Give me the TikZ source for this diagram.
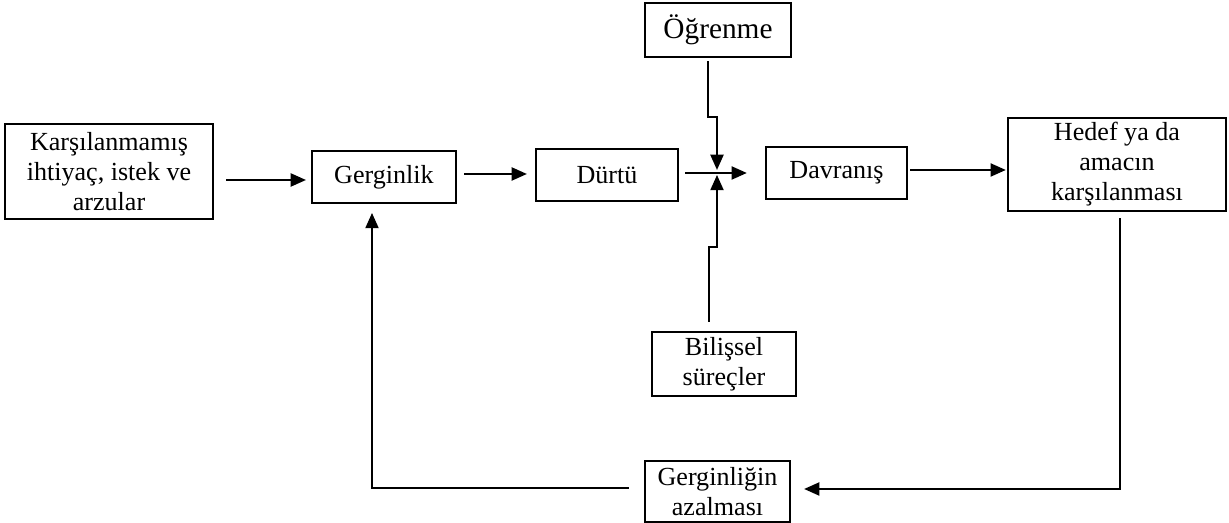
\documentclass[tikz,border=0pt]{standalone}
\usepackage{fontspec}
\setmainfont{Liberation Serif}
\usetikzlibrary{arrows.meta}
\begin{document}
\begin{tikzpicture}[x=0.46pt,y=-0.46pt,
		kutu/.style={draw,line width=1pt,align=center,inner sep=0pt,font=\fontsize{12}{13.8}\selectfont},
		ok/.style={line width=0.9pt,-{Triangle[length=7pt,width=6pt]}},
		cizgi/.style={line width=0.9pt}]
	\useasboundingbox (0,0) rectangle (1229,523);
	\node[kutu,minimum width=95.7pt,minimum height=43.7pt] (karsi) at (109,171.5) {Karşılanmamış\\ihtiyaç, istek ve\\arzular};
	\node[kutu,minimum width=66.2pt,minimum height=23.9pt] (gergin) at (384,177) {Gerginlik};
	\node[kutu,minimum width=65.3pt,minimum height=23.9pt] (durtu) at (607,175) {Dürtü};
	\node[kutu,minimum width=67.2pt,minimum height=24.8pt,font=\fontsize{13.5}{15}\selectfont] (ogren) at (718,30) {Öğrenme};
	\node[kutu,minimum width=64.9pt,minimum height=23.9pt] (davran) at (836.5,173) {Davranış};
	\node[kutu,minimum width=100.3pt,minimum height=42.8pt] (hedef) at (1117,164.5) {Hedef ya da\\amacın\\karşılanması};
	\node[kutu,minimum width=66.2pt,minimum height=29.4pt] (bilis) at (724,364) {Bilişsel\\süreçler};
	\node[kutu,minimum width=66.7pt,minimum height=28.1pt] (azal) at (717.5,491.5) {Gerginliğin\\azalması};
	\coordinate (kavsak) at (717,173);
	% oklar
	\draw[ok,shorten <=5.5pt,shorten >=2.3pt] (karsi.east |- 0,180) -- (gergin.west |- 0,180);
	\draw[ok,shorten <=3.2pt,shorten >=3.7pt] (gergin.east |- 0,174) -- (durtu.west |- 0,174);
	\draw[ok,shorten <=2.8pt,shorten >=8.3pt] (durtu.east |- kavsak) -- (davran.west |- kavsak);
	\draw[ok,shorten >=1.4pt] (ogren.south -| 708,0) ++(0,3) -- ++(0,56) -| (kavsak);
	\draw[ok,shorten >=0.9pt] (bilis.north -| 709,0) ++(0,-9) -- ++(0,-75) -| (kavsak);
	\draw[ok,shorten <=0.9pt,shorten >=0.5pt] (davran.east |- 0,170) -- (hedef.west |- 0,170);
	\draw[ok,shorten >=6pt] (hedef.south -| 1120,0) ++(0,6) |- (azal.east |- 0,489);
	\draw[ok,shorten <=6.9pt,shorten >=4.1pt] (azal.west |- 0,488) -| (gergin.south -| 372,0);
\end{tikzpicture}
\end{document}
